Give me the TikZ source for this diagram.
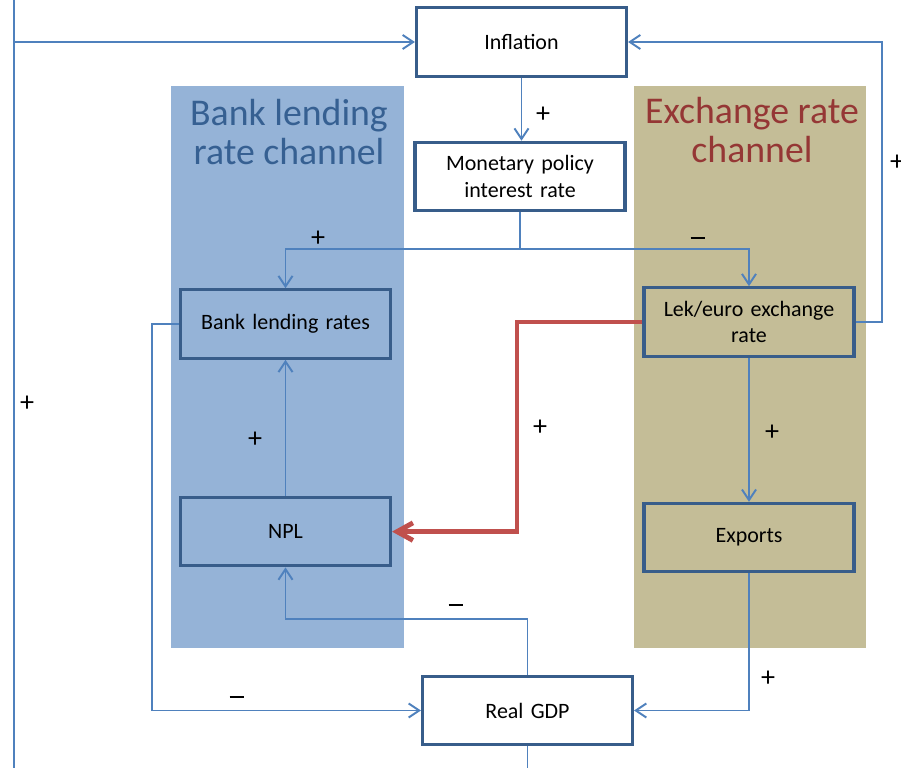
\documentclass[tikz,border=0pt]{standalone}
\usepackage{fontspec}
\setmainfont{Carlito}
\usetikzlibrary{positioning,arrows.meta}
\definecolor{boxline}{RGB}{56,93,138}
\definecolor{linkblue}{RGB}{79,129,189}
\definecolor{linkred}{RGB}{192,80,77}
\definecolor{bandblue}{RGB}{149,179,215}
\definecolor{bandtan}{RGB}{196,189,151}
\definecolor{titleblue}{RGB}{54,96,146}
\definecolor{titlered}{RGB}{149,55,53}
\newcommand{\minussign}{\rule[3pt]{8.5pt}{1pt}}

\begin{document}
\begin{tikzpicture}[x=0.02cm, y=-0.02cm, every node/.style={font=\fontsize{12.5}{15}\selectfont}]
  \tikzstyle{box}=[rectangle, draw=boxline, line width=1.8pt, text width=3.9cm, align=center, minimum width=4.2cm, minimum height=1.37cm]
  \tikzstyle{link}=[-{Straight Barb[length=6pt,width=8pt]}, draw=linkblue, line width=1.1pt]
  \tikzstyle{sign}=[font=\fontsize{16}{16}\selectfont]
  \tikzstyle{band}=[font=\fontsize{21.5}{22.5}\selectfont, align=center]
  \useasboundingbox (0,0) rectangle (901,767);
  % channel bands
  \fill[bandblue] (171,86) rectangle (404,648);
  \fill[bandtan] (634,86) rectangle (866,648);
  \node[band, text=titleblue] (bltitle) at (289,132) {Bank lending\\rate channel};
  \node[band, text=titlered] (ertitle) at (752,130) {Exchange rate\\channel};
  % boxes
  \node[box] (infl) at (521.5,42) {Inflation};
  \node[box] (mpr) at (520,176.5) {Monetary policy\\interest rate};
  \node[box] (blr) at (285.5,324) {Bank lending rates};
  \node[box, below=2.72cm of blr] (npl) {NPL};
  \node[box] (lek) at (749,322) {Lek/euro exchange\\rate};
  \node[box, below=2.88cm of lek] (exp) {Exports};
  \node[box] (gdp) at (527.5,710.5) {Real GDP};
  % helper points
  \coordinate (split) at (520,249);
  \coordinate (redbend) at (517,0);
  \coordinate (dip) at (0,619);
  \coordinate (leftrail) at (152,0);
  \coordinate (outer) at (14,0);
  \coordinate (rightrail) at (882,0);
  % connectors
  \draw[link] (infl.south) -- (infl.south |- mpr.north);
  \draw[link] (mpr.south) -- (split) -| (blr.north);
  \draw[link] (split) -| (lek.north);
  \draw[link] (npl) -- (blr);
  \draw[link, draw=linkred, line width=2.8pt, -{Straight Barb[length=9pt,width=10pt]}] (lek.west) -- (redbend |- lek.west) |- (npl.east);
  \draw[link] (lek) -- (exp);
  \draw[link] (exp.south) |- (gdp.east);
  \draw[link] (gdp.north) -- (gdp.north |- dip) -| (npl.south);
  \draw[link] (blr.west) -- (leftrail |- blr.west) |- (gdp.west);
  \draw[link] (gdp.south) -- ++(0,60) -| (outer) -- (outer |- infl.west) -- (infl.west);
  \draw[link] (lek.east) -- (rightrail |- lek.east) |- (infl.east);
  % signs
  \node[sign] (s1) at (543,115) {+};
  \node[sign] (s2) at (318,239) {+};
  \node[sign] (s3) at (698,241) {\minussign};
  \node[sign] (s4) at (255,440) {+};
  \node[sign] (s5) at (540,428) {+};
  \node[sign] (s6) at (772,433) {+};
  \node[sign] (s7) at (768,679) {+};
  \node[sign] (s8) at (456,608) {\minussign};
  \node[sign] (s9) at (237,700) {\minussign};
  \node[sign] (s10) at (27,404) {+};
  \node[sign] (s11) at (897,163) {+};
\end{tikzpicture}
\end{document}
